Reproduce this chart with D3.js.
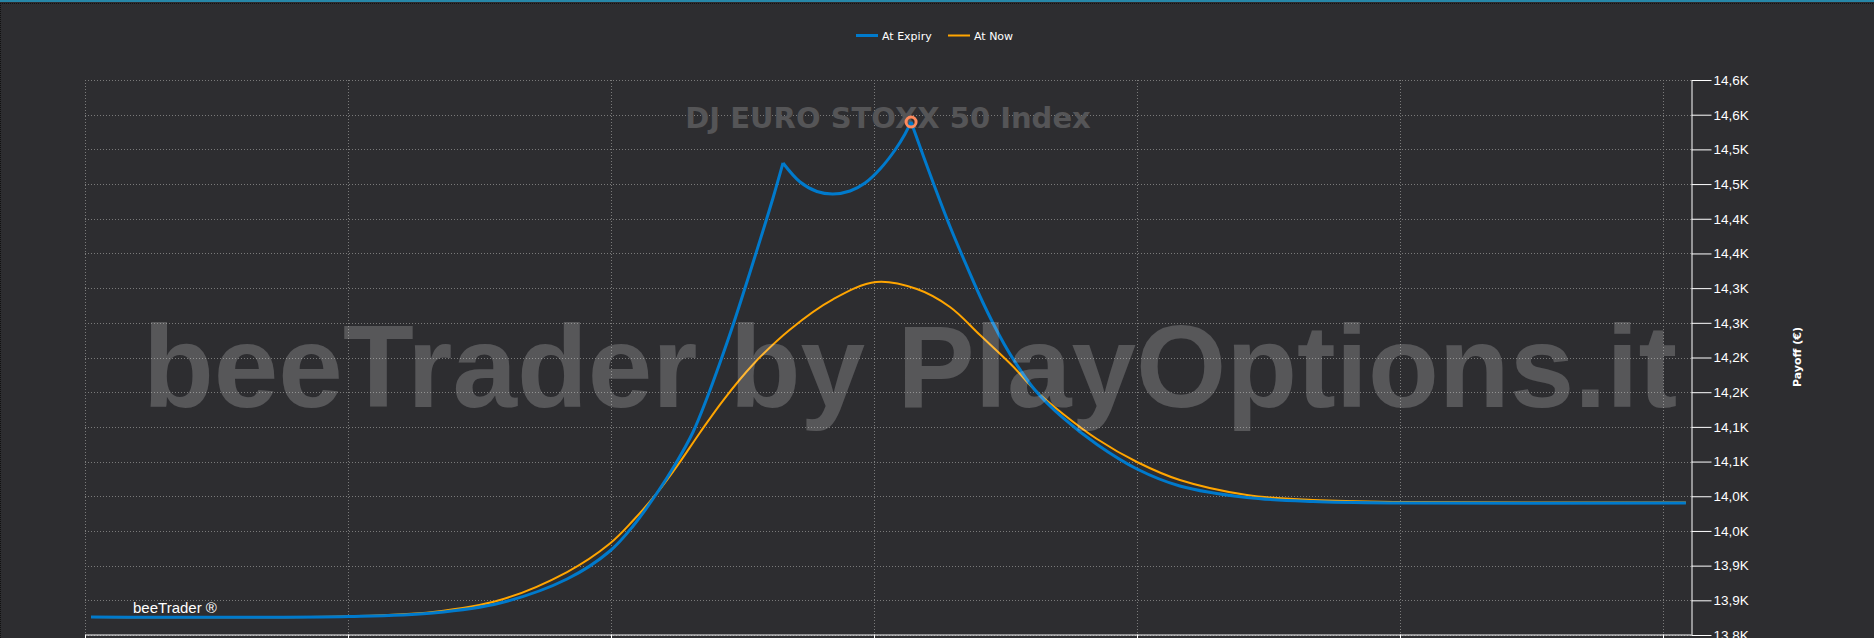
<!DOCTYPE html>
<html>
<head>
<meta charset="utf-8">
<script src="https://cdn.jsdelivr.net/npm/d3@7"></script>
<style>
  html, body { margin: 0; padding: 0; background: #2d2d30; overflow: hidden; }
  .chart svg { display: block; }
</style>
</head>
<body>
<div class="chart"></div>
<script>
// payoff data (underlying price -> payoff in €)
var expiryPrice = [3302.3, 3400.4, 3432.3, 3457.8, 3483.3, 3499.6, 3508.4, 3517.5, 3524.3, 3531.2,
  3536.5, 3541.4, 3546.4, 3553.6, 3561.6, 3565.4, 3571.9, 3578.3, 3584.4, 3590.9,
  3596.6, 3602.3, 3608.0, 3611.8, 3614.1, 3622.4, 3628.9, 3635.4, 3641.4, 3647.9,
  3652.9, 3661.2, 3671.9, 3684.8, 3700.0, 3716.3, 3741.8, 3766.9, 3800.0, 3908.7];
var expiryPayoff = [13826.0, 13826.7, 13831.7, 13846.1, 13880.7, 13921.1, 13957.1, 14004.7, 14045.0, 14092.6,
  14141.6, 14192.1, 14246.8, 14331.9, 14429.9, 14480.4, 14453.0, 14439.3, 14435.7, 14440.0,
  14451.5, 14471.7, 14499.1, 14522.2, 14539.5, 14453.0, 14388.8, 14330.5, 14279.3, 14230.3,
  14197.8, 14153.2, 14112.8, 14074.6, 14039.3, 14014.8, 13998.2, 13992.4, 13990.3, 13990.3];

var nowPrice = [3302.3, 3400.4, 3432.3, 3457.8, 3483.3, 3499.6, 3508.4, 3517.5, 3525.5, 3533.8,
  3542.6, 3554.0, 3568.1, 3584.4, 3600.8, 3616.3, 3628.9, 3640.3, 3652.9, 3661.2,
  3671.9, 3684.8, 3700.0, 3716.3, 3741.8, 3766.9, 3800.0, 3908.7];
var nowPayoff = [13826.0, 13827.0, 13833.2, 13850.4, 13890.8, 13931.9, 13965.0, 14004.7, 14045.6, 14091.6,
  14138.0, 14189.9, 14240.5, 14283.9, 14308.8, 14298.7, 14272.8, 14232.4, 14187.0, 14153.2,
  14118.6, 14082.5, 14049.4, 14023.4, 14001.8, 13994.6, 13991.7, 13991.0];

// strikes where the expiry payoff breaks
var strikes = [3565.4, 3614.1];

var yTicks = [13800, 13850, 13900, 13950, 14000, 14050, 14100, 14150, 14200,
  14250, 14300, 14350, 14400, 14450, 14500, 14550, 14600];
var yTickLabels = ["13,8K", "13,9K", "13,9K", "14,0K", "14,0K", "14,1K", "14,1K", "14,2K", "14,2K",
  "14,3K", "14,3K", "14,4K", "14,4K", "14,5K", "14,5K", "14,6K", "14,6K"];
var xTicks = [3300, 3400, 3500, 3600, 3700, 3800, 3900];

var seriesNames = ["At Expiry", "At Now"];
var seriesColors = ["#007acc", "#ffa500"];

var svgWidth = 1874;
var svgHeight = 638;

var margin = { top: 80, right: 183, bottom: 3, left: 85 };
var width = svgWidth - margin.left - margin.right;
var height = svgHeight - margin.top - margin.bottom;

var svg = d3.select(".chart")
  .append("svg")
  .attr("width", svgWidth)
  .attr("height", svgHeight);

svg.append("rect")
  .attr("width", svgWidth)
  .attr("height", svgHeight)
  .attr("fill", "#2d2d30");

// thin frame at the top / left
svg.append("rect")
  .attr("x", 0).attr("y", 0)
  .attr("width", svgWidth).attr("height", 2)
  .attr("fill", "#2787a8");
svg.append("line")
  .attr("x1", 0).attr("x2", svgWidth)
  .attr("y1", 3.5).attr("y2", 3.5)
  .attr("stroke", "#111")
  .attr("stroke-dasharray", "1,1");
svg.append("line")
  .attr("x1", 0.5).attr("x2", 0.5)
  .attr("y1", 3).attr("y2", svgHeight)
  .attr("stroke", "#111")
  .attr("stroke-dasharray", "1,1");

var chartGroup = svg.append("g")
  .attr("transform", `translate(${margin.left}, ${margin.top})`);

var xScale = d3.scaleLinear()
  .domain([3300, 3300 + width / 2.63])
  .range([0, width]);

var yScale = d3.scaleLinear()
  .domain([13800, 14600])
  .range([height, 0]);

// grid
chartGroup.append("g")
  .selectAll("line")
  .data(yTicks)
  .enter()
  .append("line")
  .attr("x1", 0)
  .attr("x2", width)
  .attr("y1", d => Math.round(yScale(d)) + 0.5)
  .attr("y2", d => Math.round(yScale(d)) + 0.5)
  .attr("stroke", "#7a7a7a")
  .attr("stroke-dasharray", "1,2");

chartGroup.append("g")
  .selectAll("line")
  .data(xTicks)
  .enter()
  .append("line")
  .attr("x1", d => Math.round(xScale(d)) + 0.5)
  .attr("x2", d => Math.round(xScale(d)) + 0.5)
  .attr("y1", 0)
  .attr("y2", height)
  .attr("stroke", "#7a7a7a")
  .attr("stroke-dasharray", "1,2");

// title
chartGroup.append("text")
  .attr("x", 888 - margin.left)
  .attr("y", 128 - margin.top)
  .attr("text-anchor", "middle")
  .attr("font-family", "DejaVu Sans")
  .attr("font-weight", "bold")
  .attr("font-size", "29px")
  .attr("fill", "#555557")
  .text("DJ EURO STOXX 50 Index");

// lines
var line = d3.line()
  .x(d => xScale(d[0]))
  .y(d => yScale(d[1]))
  .curve(d3.curveCatmullRom.alpha(0.5));

var nowData = nowPrice.map((p, i) => [p, nowPayoff[i]]);
var expiryData = expiryPrice.map((p, i) => [p, expiryPayoff[i]]);

chartGroup.append("path")
  .attr("d", line(nowData))
  .attr("fill", "none")
  .attr("stroke", seriesColors[1])
  .attr("stroke-width", 2);

// split expiry payoff at the strikes so the kinks stay sharp
var cuts = [expiryPrice[0]].concat(strikes, [expiryPrice[expiryPrice.length - 1]]);
var expiryD = "";
for (var k = 0; k < cuts.length - 1; k++) {
  var seg = expiryData.filter(d => d[0] >= cuts[k] && d[0] <= cuts[k + 1]);
  expiryD += line(seg);
}
chartGroup.append("path")
  .attr("d", expiryD)
  .attr("fill", "none")
  .attr("stroke", seriesColors[0])
  .attr("stroke-width", 3)
  .attr("stroke-linejoin", "round");

// max marker
var maxPoint = expiryData[d3.maxIndex(expiryData, d => d[1])];
chartGroup.append("circle")
  .attr("cx", xScale(maxPoint[0]))
  .attr("cy", yScale(maxPoint[1]))
  .attr("r", 5)
  .attr("fill", "none")
  .attr("stroke", "#ff8a5c")
  .attr("stroke-width", 3);

// axes
var rightAxis = d3.axisRight(yScale)
  .tickValues(yTicks)
  .tickFormat((d, i) => yTickLabels[i])
  .tickSize(20)
  .tickSizeOuter(0)
  .tickPadding(2);

var yAxisG = chartGroup.append("g")
  .attr("transform", `translate(${width + 0.5}, 0)`)
  .call(rightAxis);
yAxisG.selectAll("path, line").attr("stroke", "#ffffff");
yAxisG.selectAll("text")
  .attr("fill", "#ffffff")
  .attr("font-family", "Liberation Sans")
  .attr("font-size", "13.5px");

var bottomAxis = d3.axisBottom(xScale)
  .tickValues(xTicks)
  .tickFormat("")
  .tickSize(6)
  .tickSizeOuter(0);

var xAxisG = chartGroup.append("g")
  .attr("transform", `translate(0, ${height - 0.5})`)
  .call(bottomAxis);
xAxisG.selectAll("path, line").attr("stroke", "#ffffff");

chartGroup.append("text")
  .attr("transform", `translate(${1801 - margin.left}, ${357 - margin.top}) rotate(-90)`)
  .attr("text-anchor", "middle")
  .attr("font-family", "DejaVu Sans")
  .attr("font-weight", "bold")
  .attr("font-size", "11px")
  .attr("fill", "#ffffff")
  .text("Payoff (€)");

chartGroup.append("text")
  .attr("x", 133 - margin.left)
  .attr("y", 613 - margin.top)
  .attr("font-family", "Liberation Sans")
  .attr("font-size", "15px")
  .attr("fill", "#ffffff")
  .text("beeTrader ®");

// watermark over the plot
chartGroup.append("text")
  .attr("x", 143 - margin.left)
  .attr("y", 407 - margin.top)
  .attr("font-family", "Liberation Sans")
  .attr("font-weight", "bold")
  .attr("font-size", "116px")
  .attr("fill", "#ffffff")
  .attr("fill-opacity", 0.2)
  .text("beeTrader by PlayOptions.it");

// legend
var legendX = [856, 948];
var legend = svg.append("g");
seriesNames.forEach(function(name, i) {
  legend.append("rect")
    .attr("x", legendX[i])
    .attr("y", i === 0 ? 34 : 34.5)
    .attr("width", 22)
    .attr("height", i === 0 ? 3 : 2)
    .attr("fill", seriesColors[i]);
  legend.append("text")
    .attr("x", legendX[i] + 26)
    .attr("y", 39.5)
    .attr("font-family", "DejaVu Sans")
    .attr("font-size", "11px")
    .attr("fill", "#ffffff")
    .text(name);
});
</script>
</body>
</html>
